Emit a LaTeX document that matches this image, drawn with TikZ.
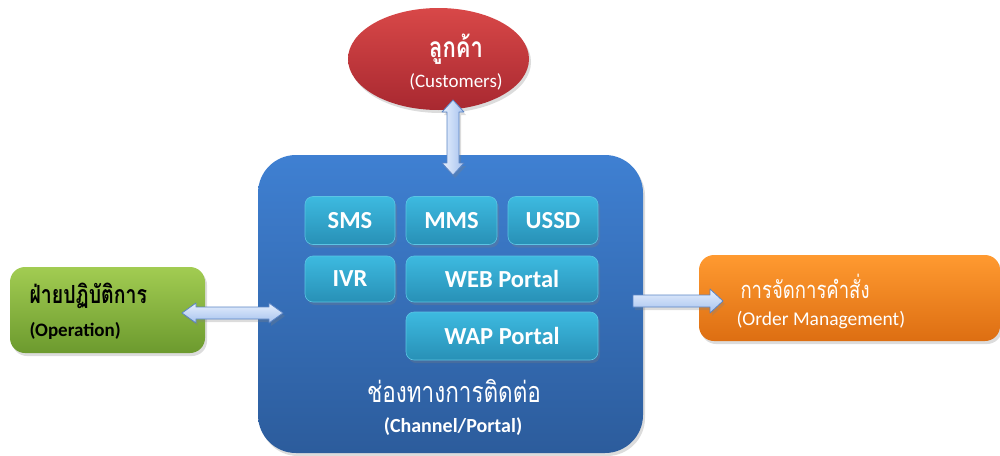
\documentclass[tikz,border=0pt]{standalone}
\usepackage{fontspec}
\setmainfont{Carlito}
\newfontfamily\thai[Script=Thai]{Loma}
\usetikzlibrary{shadows,shapes.geometric,calc}

\definecolor{redtop}{HTML}{D84848}
\definecolor{redbot}{HTML}{A82830}
\definecolor{bluetop}{HTML}{3F80D2}
\definecolor{bluebot}{HTML}{2C5C9C}
\definecolor{tealtop}{HTML}{3DBAE0}
\definecolor{tealbot}{HTML}{2890B6}
\definecolor{tealedge}{HTML}{5CC4E4}
\definecolor{greentop}{HTML}{A2CC52}
\definecolor{greenbot}{HTML}{6C9A2E}
\definecolor{orangetop}{HTML}{FF9A30}
\definecolor{orangebot}{HTML}{DD6E12}
\definecolor{arrowlight}{HTML}{E6EFFD}
\definecolor{arrowdark}{HTML}{A6C2EE}
\definecolor{arrowedge}{HTML}{5A84C4}

% Thai lines are set a little taller than the font's natural shape
\newcommand{\tallthai}[1]{\scalebox{1}[1.28]{#1}}

\tikzset{
  softshadow/.style={drop shadow={opacity=0.28, shadow xshift=2pt, shadow yshift=-3pt}},
  channelbox/.style={rectangle, rounded corners=8pt, draw=tealedge, line width=0.6pt,
    top color=tealtop, bottom color=tealbot, text=white, font=\bfseries\fontsize{24.5}{28}\selectfont,
    minimum height=48pt, softshadow},
  blockarrow/.style={draw=arrowedge, line width=0.8pt, line join=round, softshadow},
}

\begin{document}
\begin{tikzpicture}[x=1pt, y=-1pt]
  \useasboundingbox (0,0) rectangle (1000,455);

  % customers
  \node[ellipse, minimum width=181pt, minimum height=102pt, top color=redtop, bottom color=redbot,
        softshadow] (cust) at (438.5,59) {};
  \node[text=white, font=\thai\bfseries\fontsize{22}{26}\selectfont] (custth) at (456,49) {\tallthai{ลูกค้า}};
  \node[text=white, font=\fontsize{19}{22}\selectfont] (custen) at (456,82) {(Customers)};

  % channel container
  \node[rectangle, rounded corners=38pt, minimum width=385pt, minimum height=298pt,
        top color=bluetop, bottom color=bluebot, softshadow] (chan) at (450.5,304) {};

  \node[channelbox, minimum width=90pt] (sms)  at (350,220.5) {SMS};
  \node[channelbox, minimum width=91pt] (mms)  at (451.5,220.5) {MMS};
  \node[channelbox, minimum width=90pt] (ussd) at (553,220.5) {USSD};
  \node[channelbox, minimum width=90pt, minimum height=46pt] (ivr) at (350,279) {IVR};
  \node[channelbox, minimum width=192pt, minimum height=46pt] (web) at (502,279) {WEB Portal};
  \node[channelbox, minimum width=192pt] (wap) at (502,336) {WAP Portal};

  \node[text=white, font=\thai\fontsize{22.5}{26}\selectfont] (chanth) at (454,391) {\tallthai{ช่องทางการติดต่อ}};
  \node[text=white, font=\bfseries\fontsize{20}{23}\selectfont] (chanen) at (453,427) {(Channel/Portal)};

  % operation
  \node[rectangle, rounded corners=15pt, minimum width=195pt, minimum height=86pt,
        top color=greentop, bottom color=greenbot, softshadow] (oper) at (107.5,310) {};
  \node[anchor=west, font=\thai\bfseries\fontsize{19.5}{24}\selectfont] (operth) at (26,296) {\tallthai{ฝ่ายปฏิบัติการ}};
  \node[anchor=west, font=\bfseries\fontsize{19}{22}\selectfont] (operen) at (26,331) {(Operation)};

  % order management
  \node[rectangle, rounded corners=15pt, minimum width=301pt, minimum height=86pt,
        top color=orangetop, bottom color=orangebot, softshadow] (order) at (849.5,298) {};
  \node[anchor=west, text=white, font=\thai\fontsize{18.5}{24}\selectfont] (orderth) at (737,286) {\tallthai{การจัดการคำสั่ง}};
  \node[anchor=west, text=white, font=\fontsize{19.5}{23}\selectfont] (orderen) at (733,320) {(Order Management)};

  % arrow end points
  \coordinate (ct) at (453,100);
  \coordinate (cb) at (453,175);
  \coordinate (ol) at (182,313);
  \coordinate (or) at (283,313);
  \coordinate (mt) at (633,301);
  \coordinate (mh) at (723,301);

  % customers <-> channel
  \path[blockarrow, left color=arrowlight, right color=arrowdark]
    (ct) -- ($(ct)+(11,12)$) -- ($(ct)+(6,12)$) -- ($(cb)+(6,-12)$) -- ($(cb)+(11,-12)$) -- (cb)
    -- ($(cb)+(-11,-12)$) -- ($(cb)+(-6,-12)$) -- ($(ct)+(-6,12)$) -- ($(ct)+(-11,12)$) -- cycle;

  % operation <-> channel
  \path[blockarrow, top color=arrowlight, bottom color=arrowdark]
    (ol) -- ($(ol)+(14,-10)$) -- ($(ol)+(14,-6)$) -- ($(or)+(-14,-6)$) -- ($(or)+(-14,-10)$) -- (or)
    -- ($(or)+(-14,10)$) -- ($(or)+(-14,6)$) -- ($(ol)+(14,6)$) -- ($(ol)+(14,10)$) -- cycle;

  % channel -> order management
  \path[blockarrow, top color=arrowlight, bottom color=arrowdark]
    (mt) -- ($(mt)+(0,-6)$) -- ($(mh)+(-13,-6)$) -- ($(mh)+(-13,-12)$) -- (mh)
    -- ($(mh)+(-13,12)$) -- ($(mh)+(-13,6)$) -- ($(mt)+(0,6)$) -- cycle;
\end{tikzpicture}
\end{document}
